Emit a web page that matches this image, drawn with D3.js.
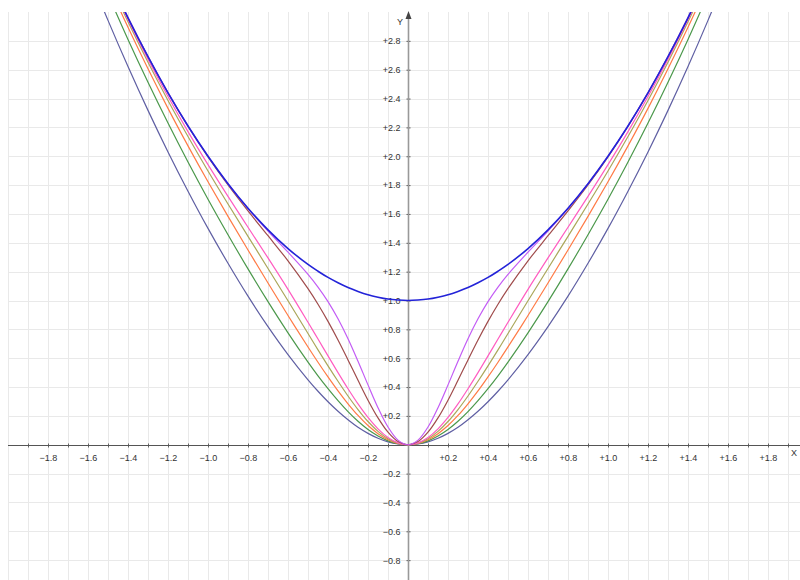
<!DOCTYPE html>
<html>
<head>
<meta charset="utf-8">
<script src="https://cdn.jsdelivr.net/npm/d3@7"></script>
<style>
    body { margin: 0; background: #fff; }
    svg { display: block; font-family: "Liberation Sans", Arial, sans-serif; }
</style>
</head>
<body>
<div id="example"></div>
<script>
(function () {

    // sample positions along x (finer near the origin where curves bend)
    var xs = [-1.6, -1.5, -1.4, -1.3, -1.2, -1.1, -1.0, -0.9, -0.8, -0.7, -0.6,
              -0.5, -0.45, -0.4, -0.35, -0.3, -0.25, -0.2, -0.15, -0.1, -0.05, 0,
              0.05, 0.1, 0.15, 0.2, 0.25, 0.3, 0.35, 0.4, 0.45, 0.5,
              0.6, 0.7, 0.8, 0.9, 1.0, 1.1, 1.2, 1.3, 1.4, 1.5, 1.6];

    var navy = [3.279, 2.942, 2.622, 2.318, 2.030, 1.758, 1.500, 1.258, 1.030, 0.819, 0.625,
                0.450, 0.371, 0.298, 0.232, 0.173, 0.121, 0.079, 0.045, 0.020, 0.005, 0,
                0.005, 0.020, 0.045, 0.079, 0.121, 0.173, 0.232, 0.298, 0.371, 0.450,
                0.625, 0.819, 1.030, 1.258, 1.500, 1.758, 2.030, 2.318, 2.622, 2.942, 3.279];
    var green = [3.452, 3.123, 2.810, 2.513, 2.230, 1.960, 1.702, 1.456, 1.219, 0.992, 0.776,
                 0.573, 0.478, 0.389, 0.306, 0.230, 0.163, 0.106, 0.061, 0.027, 0.007, 0,
                 0.007, 0.027, 0.061, 0.106, 0.163, 0.230, 0.306, 0.389, 0.478, 0.573,
                 0.776, 0.992, 1.219, 1.456, 1.702, 1.960, 2.230, 2.513, 2.810, 3.123, 3.452];
    var orange = [3.518, 3.197, 2.894, 2.606, 2.332, 2.072, 1.823, 1.583, 1.350, 1.121, 0.896,
                  0.678, 0.572, 0.470, 0.373, 0.284, 0.203, 0.133, 0.077, 0.035, 0.009, 0,
                  0.009, 0.035, 0.077, 0.133, 0.203, 0.284, 0.373, 0.470, 0.572, 0.678,
                  0.896, 1.121, 1.350, 1.583, 1.823, 2.072, 2.332, 2.606, 2.894, 3.197, 3.518];
    var olive = [3.545, 3.230, 2.932, 2.652, 2.387, 2.137, 1.898, 1.669, 1.445, 1.222, 0.998,
                 0.771, 0.658, 0.547, 0.440, 0.338, 0.244, 0.161, 0.093, 0.042, 0.011, 0,
                 0.011, 0.042, 0.093, 0.161, 0.244, 0.338, 0.440, 0.547, 0.658, 0.771,
                 0.998, 1.222, 1.445, 1.669, 1.898, 2.137, 2.387, 2.652, 2.932, 3.230, 3.545];
    var pink = [3.555, 3.242, 2.948, 2.673, 2.414, 2.171, 1.942, 1.722, 1.508, 1.295, 1.077,
                0.849, 0.733, 0.616, 0.500, 0.388, 0.283, 0.189, 0.110, 0.050, 0.013, 0,
                0.013, 0.050, 0.110, 0.189, 0.283, 0.388, 0.500, 0.616, 0.733, 0.849,
                1.077, 1.295, 1.508, 1.722, 1.942, 2.171, 2.414, 2.673, 2.948, 3.242, 3.555];
    var brown = [3.560, 3.250, 2.960, 2.690, 2.439, 2.208, 1.996, 1.801, 1.621, 1.449, 1.275,
                 1.082, 0.974, 0.855, 0.726, 0.588, 0.447, 0.309, 0.186, 0.087, 0.022, 0,
                 0.022, 0.087, 0.186, 0.309, 0.447, 0.588, 0.726, 0.855, 0.974, 1.082,
                 1.275, 1.449, 1.621, 1.801, 1.996, 2.208, 2.439, 2.690, 2.960, 3.250, 3.560];
    var violet = [3.560, 3.250, 2.960, 2.690, 2.440, 2.210, 2.000, 1.809, 1.637, 1.482, 1.335,
                  1.181, 1.093, 0.992, 0.873, 0.735, 0.579, 0.415, 0.257, 0.123, 0.032, 0,
                  0.032, 0.123, 0.257, 0.415, 0.579, 0.735, 0.873, 0.992, 1.093, 1.181,
                  1.335, 1.482, 1.637, 1.809, 2.000, 2.210, 2.440, 2.690, 2.960, 3.250, 3.560];
    var blue = [3.560, 3.250, 2.960, 2.690, 2.440, 2.210, 2.000, 1.810, 1.640, 1.490, 1.360,
                1.250, 1.203, 1.160, 1.123, 1.090, 1.063, 1.040, 1.023, 1.010, 1.003, 1,
                1.003, 1.010, 1.023, 1.040, 1.063, 1.090, 1.123, 1.160, 1.203, 1.250,
                1.360, 1.490, 1.640, 1.810, 2.000, 2.210, 2.440, 2.690, 2.960, 3.250, 3.560];

    var xTickLabels = ['\u22121.8', '\u22121.6', '\u22121.4', '\u22121.2', '\u22121.0',
                       '\u22120.8', '\u22120.6', '\u22120.4', '\u22120.2',
                       '+0.2', '+0.4', '+0.6', '+0.8', '+1.0', '+1.2', '+1.4', '+1.6', '+1.8'];
    var xTickValues = [-1.8, -1.6, -1.4, -1.2, -1.0, -0.8, -0.6, -0.4, -0.2,
                       0.2, 0.4, 0.6, 0.8, 1.0, 1.2, 1.4, 1.6, 1.8];
    var yTickLabels = ['\u22120.8', '\u22120.6', '\u22120.4', '\u22120.2',
                       '+0.2', '+0.4', '+0.6', '+0.8', '+1.0', '+1.2', '+1.4', '+1.6',
                       '+1.8', '+2.0', '+2.2', '+2.4', '+2.6', '+2.8'];
    var yTickValues = [-0.8, -0.6, -0.4, -0.2, 0.2, 0.4, 0.6, 0.8, 1.0, 1.2, 1.4, 1.6,
                       1.8, 2.0, 2.2, 2.4, 2.6, 2.8];

    var series = [
        {values: navy, color: '#5f5fa3', width: 1.2},
        {values: green, color: '#4b984b', width: 1.2},
        {values: orange, color: '#ff7a45', width: 1.2},
        {values: olive, color: '#aaa75a', width: 1.2},
        {values: pink, color: '#ff5cc0', width: 1.2},
        {values: brown, color: '#a04c4c', width: 1.2},
        {values: violet, color: '#c35cf5', width: 1.2},
        {values: blue, color: '#2323d8', width: 1.6}
    ];

    var width = 800,
        height = 580;

    var x = d3.scaleLinear().domain([-2, 2]).range([8, 808]),
        y = d3.scaleLinear().domain([-1, 3]).range([589, 12]);

    var paper = d3.select('#example')
        .append('svg')
        .attr('width', width)
        .attr('height', height);

    paper.append('rect')
        .attr('width', width)
        .attr('height', height)
        .style('fill', '#fff');

    paper.append('defs').append('clipPath')
        .attr('id', 'plot-clip')
        .append('rect')
        .attr('x', 8).attr('y', 12)
        .attr('width', 800).attr('height', 580);

    // grid: every 0.1 across, every 0.2 up
    var grid = paper.append('g').classed('grid', true)
        .style('stroke', '#e9e9e9')
        .style('stroke-width', '1px');

    grid.selectAll('line.v')
        .data(d3.range(-20, 21).map(function (i) {return i / 10;}))
        .enter()
        .append('line')
        .attr('class', 'v')
        .attr('x1', function (d) {return Math.round(x(d)) + 0.5;})
        .attr('x2', function (d) {return Math.round(x(d)) + 0.5;})
        .attr('y1', 12)
        .attr('y2', height);

    grid.selectAll('line.h')
        .data(d3.range(-5, 15).map(function (i) {return i / 5;}))
        .enter()
        .append('line')
        .attr('class', 'h')
        .attr('x1', 8)
        .attr('x2', width)
        .attr('y1', function (d) {return Math.round(y(d)) + 0.5;})
        .attr('y2', function (d) {return Math.round(y(d)) + 0.5;});

    // x axis
    var xAxis = d3.axisBottom(x)
        .tickValues(d3.range(-19, 20).filter(function (i) {return i !== 0;})
            .map(function (i) {return i / 10;}))
        .tickSize(2)
        .tickFormat(function (d) {
            var i = xTickValues.findIndex(function (v) {return Math.abs(v - d) < 1e-9;});
            return i < 0 ? '' : xTickLabels[i];
        });

    var gx = paper.append('g')
        .attr('transform', 'translate(0,' + (Math.round(y(0)) + 0.5) + ')')
        .call(xAxis);
    gx.select('.domain').remove();
    gx.selectAll('.tick line').attr('y1', -2).attr('y2', 2).style('stroke', '#666');
    gx.selectAll('.tick text')
        .attr('y', 9)
        .style('font-size', '9px')
        .style('fill', '#333');
    gx.append('line')
        .attr('x1', 8).attr('x2', width)
        .style('stroke', '#555')
        .style('stroke-width', '1px');

    // y axis
    var yAxis = d3.axisLeft(y)
        .tickValues(yTickValues)
        .tickSize(2)
        .tickFormat(function (d, i) {return yTickLabels[i];});

    var gy = paper.append('g')
        .attr('transform', 'translate(' + (Math.round(x(0)) + 0.5) + ',0)')
        .call(yAxis);
    gy.select('.domain').remove();
    gy.selectAll('.tick line').attr('x1', -2).attr('x2', 2).style('stroke', '#555');
    gy.selectAll('.tick text')
        .attr('x', -8)
        .style('font-size', '9px')
        .style('fill', '#333');
    gy.append('line')
        .attr('y1', 16).attr('y2', height)
        .style('stroke', '#999')
        .style('stroke-width', '1.6px');
    gy.append('path')
        .attr('d', 'M0,11 L-3,19 L3,19 Z')
        .style('fill', '#444');

    paper.append('text')
        .attr('x', 400).attr('y', 25)
        .attr('text-anchor', 'middle')
        .style('font-size', '9px')
        .style('fill', '#333')
        .text('Y');
    paper.append('text')
        .attr('x', 791).attr('y', 456)
        .style('font-size', '9px')
        .style('fill', '#333')
        .text('X');

    // curves
    var line = d3.line()
        .x(function (d) {return x(d[0]);})
        .y(function (d) {return y(d[1]);})
        .curve(d3.curveCatmullRom.alpha(0.5));

    paper.append('g')
        .attr('clip-path', 'url(#plot-clip)')
        .selectAll('path')
        .data(series)
        .enter()
        .append('path')
        .attr('d', function (s) {
            return line(xs.map(function (v, i) {return [v, s.values[i]];}));
        })
        .style('fill', 'none')
        .style('stroke', function (s) {return s.color;})
        .style('stroke-width', function (s) {return s.width + 'px';});
}());
</script>
</body>
</html>
